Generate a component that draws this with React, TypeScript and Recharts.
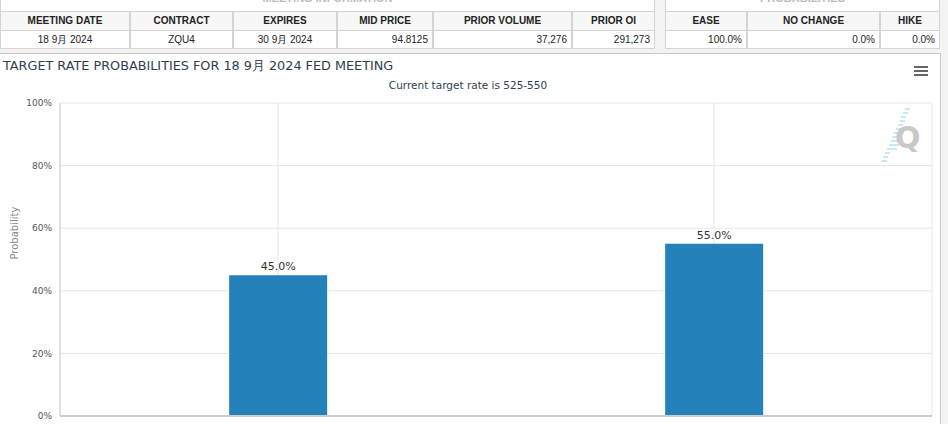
import React from 'react';
import { BarChart, Bar, XAxis, YAxis, CartesianGrid, LabelList } from 'recharts';

const categories = ['475-500', '500-525'];
const probabilities = [45.0, 55.0];
const yTicks = [0, 20, 40, 60, 80, 100];

const headerCols = ['MEETING DATE', 'CONTRACT', 'EXPIRES', 'MID PRICE', 'PRIOR VOLUME', 'PRIOR OI'];
const rowValues = ['18 9月 2024', 'ZQU4', '30 9月 2024', '94.8125', '37,276', '291,273'];
const probCols = ['EASE', 'NO CHANGE', 'HIKE'];
const probValues = ['100.0%', '0.0%', '0.0%'];

const leftEdges = [0, 130, 233, 337, 433, 572, 655];
const leftAlign = ['center', 'center', 'center', 'right', 'right', 'right'];
const rightEdges = [665, 747, 880, 940];

const chartData = categories.map((c, i) => ({ name: c, value: probabilities[i] }));

const cell = (x0: number, x1: number, y: number, h: number, text: string, bold: boolean, align: string, bg: string) => (
  <div
    key={`${x0}-${y}`}
    style={{
      position: 'absolute',
      left: x0,
      top: y,
      width: x1 - x0,
      height: h,
      boxSizing: 'border-box',
      border: '1px solid #d4d4d4',
      background: bg,
      fontFamily: 'Arial, "Liberation Sans", sans-serif',
      fontSize: 10,
      fontWeight: bold ? 700 : 400,
      color: '#222',
      lineHeight: `${h - 2}px`,
      textAlign: align as any,
      padding: '0 4px',
      whiteSpace: 'nowrap',
      overflow: 'hidden',
    }}
  >
    {text}
  </div>
);

const App: React.FC = () => {
  return (
    <div style={{ position: 'fixed', left: 0, top: 0, width: 948, height: 424, overflow: 'hidden', background: '#f3f3f3' }}>
      {/* top tables, group headers partly scrolled out of view */}
      <div style={{ position: 'absolute', left: 0, top: -14, width: 655, height: 26, boxSizing: 'border-box', border: '1px solid #d4d4d4', background: '#fff', textAlign: 'center', fontFamily: 'Arial, sans-serif', fontSize: 11, fontWeight: 700, color: '#bbb', lineHeight: '22px' }}>MEETING INFORMATION</div>
      <div style={{ position: 'absolute', left: 665, top: -14, width: 275, height: 26, boxSizing: 'border-box', border: '1px solid #d4d4d4', background: '#fff', textAlign: 'center', fontFamily: 'Arial, sans-serif', fontSize: 11, fontWeight: 700, color: '#bbb', lineHeight: '22px' }}>PROBABILITIES</div>
      {headerCols.map((h, i) => cell(leftEdges[i], leftEdges[i + 1], 11, 20, h, true, 'center', '#f7f7f7'))}
      {rowValues.map((v, i) => cell(leftEdges[i], leftEdges[i + 1], 30, 19, v, false, leftAlign[i], '#fff'))}
      {probCols.map((h, i) => cell(rightEdges[i], rightEdges[i + 1], 11, 20, h, true, 'center', '#f7f7f7'))}
      {probValues.map((v, i) => cell(rightEdges[i], rightEdges[i + 1], 30, 19, v, false, 'right', '#fff'))}

      {/* chart panel */}
      <div style={{ position: 'absolute', left: 0, top: 53, width: 941, height: 400, boxSizing: 'border-box', borderRight: '1px solid #c8c8c8', borderTop: '1px solid #c8c8c8', background: '#fff' }}>
        <div style={{ position: 'absolute', left: 3, top: 4, fontFamily: '"DejaVu Sans", sans-serif', fontSize: 12.8, color: '#2f3e50', whiteSpace: 'nowrap' }}>
          TARGET RATE PROBABILITIES FOR 18 9月 2024 FED MEETING
        </div>
        <div style={{ position: 'absolute', left: 0, width: 936, top: 25, textAlign: 'center', fontFamily: '"DejaVu Sans", sans-serif', fontSize: 10.5, color: '#2f3e50' }}>
          Current target rate is 525-550
        </div>
        <div style={{ position: 'absolute', left: 914, top: 12 }}>
          {[0, 4, 8].map((d) => (
            <div key={d} style={{ position: 'absolute', top: d, width: 14, height: 2, background: '#666' }} />
          ))}
        </div>
        {/* watermark */}
        {[0, 4, 8, 12, 16, 20, 24, 28, 32, 36, 40, 44, 48, 52].map((d, i) => (
          <div key={d} style={{ position: 'absolute', left: 905 - i * 1.8, top: 54 + d, width: i > 4 && i < 11 ? 10 : 5, height: 1.5, background: '#c6e9f8' }} />
        ))}
        <div style={{ position: 'absolute', left: 895, top: 66, fontFamily: '"DejaVu Sans", sans-serif', fontSize: 30, fontWeight: 700, color: '#c8c8c8' }}>Q</div>
        <div style={{ position: 'absolute', top: 0, left: 0 }}>
          <BarChart
            width={939}
            height={420}
            data={chartData}
            margin={{ top: 49, right: 7, bottom: 28, left: 0 }}
            barCategoryGap="38.8%"
          >
            <CartesianGrid stroke="#e6e6e6" vertical={true} horizontal={true} />
            <XAxis
              dataKey="name"
              stroke="#cccccc"
              strokeWidth={2}
              tickLine={false}
              tickMargin={14}
              tick={{ fill: '#666', fontSize: 10 }}
            />
            <YAxis
              domain={[0, 100]}
              ticks={yTicks}
              width={60}
              stroke="#cccccc"
              tickLine={false}
              tickFormatter={(v: number) => `${v}%`}
              tick={{ fill: '#555', fontSize: 9, fontFamily: '"DejaVu Sans", sans-serif' }}
              label={{ value: 'Probability', angle: -90, position: 'insideLeft', offset: 14, fill: '#888', fontSize: 10, fontFamily: '"DejaVu Sans", sans-serif' }}
            />
            <Bar dataKey="value" fill="#2581ba" isAnimationActive={false}>
              <LabelList
                dataKey="value"
                position="top"
                offset={5}
                formatter={(v: any) => `${Number(v).toFixed(1)}%`}
                style={{ fill: '#333', fontSize: 11, fontFamily: '"DejaVu Sans", sans-serif' }}
              />
            </Bar>
          </BarChart>
        </div>
      </div>
    </div>
  );
};

export default App;
